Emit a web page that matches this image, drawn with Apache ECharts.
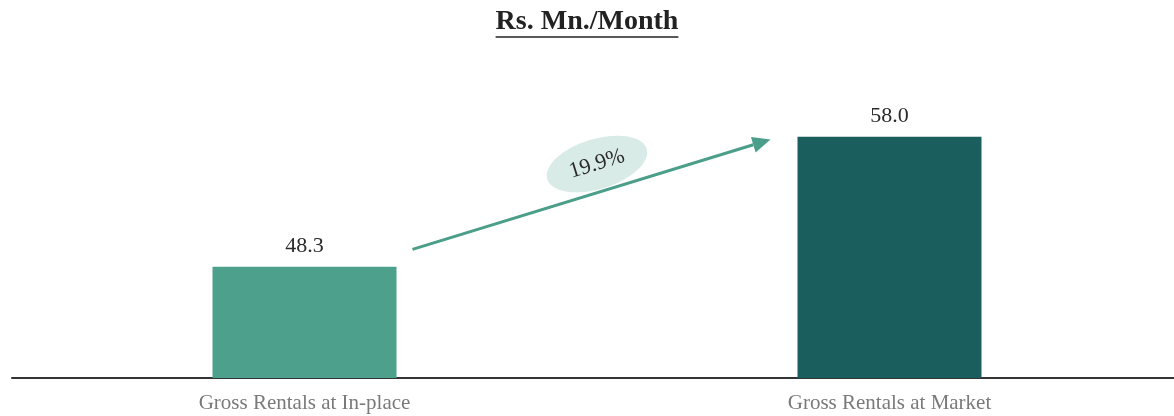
<!DOCTYPE html>
<html>
<head>
<meta charset="utf-8">
<style>
  html, body { margin: 0; padding: 0; background: #fff; }
  #chart { width: 1174px; height: 416px; }
</style>
<script src="https://cdn.jsdelivr.net/npm/echarts@6/dist/echarts.min.js"></script>
</head>
<body>
<div id="chart"></div>
<script>
// Monthly gross rentals, Rs. Mn.
const categories = ['Gross Rentals at In-place', 'Gross Rentals at Market'];
const rentals = [48.3, 58.0];
const barColors = ['#4da08b', '#1b5e5e'];
const growthPct = 19.9;          // uplift from in-place to market, %
const titleText = 'Rs. Mn./Month';

const SERIF = '"Liberation Serif", "DejaVu Serif", serif';

const chart = echarts.init(document.getElementById('chart'));

chart.setOption({
  animation: false,
  backgroundColor: '#ffffff',
  grid: { left: 12, width: 1170, top: 43, bottom: 38, outerBoundsMode: 'none' },
  xAxis: {
    type: 'category',
    data: categories,
    axisTick: { show: false },
    axisLine: { lineStyle: { color: '#333', width: 2 } },
    axisLabel: { color: '#7a7a7a', fontFamily: SERIF, fontSize: 21, margin: 15 }
  },
  yAxis: {
    type: 'value',
    min: 40,
    max: 65,
    show: false
  },
  series: [{
    type: 'bar',
    barWidth: 184,
    data: rentals.map((v, i) => ({ value: v, itemStyle: { color: barColors[i] } })),
    label: {
      show: true,
      position: 'top',
      distance: 10,
      color: '#2b2b2b',
      fontFamily: SERIF,
      fontSize: 22,
      formatter: p => p.value.toFixed(1)
    }
  }]
});

// Arrow and growth badge placed from data coordinates
function drawOverlay() {
  const p0 = chart.convertToPixel({ gridIndex: 0 }, [0, rentals[0]]);
  const p1 = chart.convertToPixel({ gridIndex: 0 }, [1, rentals[1]]);
  const half = 92;
  const x0 = p0[0] + half + 16;
  const y0 = chart.convertToPixel({ gridIndex: 0 }, [0, 49.6])[1];
  const x1 = p1[0] - half - 27;
  const y1 = chart.convertToPixel({ gridIndex: 0 }, [1, 57.8])[1];
  const ang = Math.atan2(y1 - y0, x1 - x0);
  const headLen = 18, headW = 8;
  const bx = x1 - headLen * Math.cos(ang), by = y1 - headLen * Math.sin(ang);
  const nx = -Math.sin(ang), ny = Math.cos(ang);

  // title underline width from measured text
  const titleFont = 'bold 28px ' + SERIF;
  const ctx = document.createElement('canvas').getContext('2d');
  ctx.font = titleFont;
  const tw = ctx.measureText(titleText).width;
  const tcx = 587;

  const ex = 597, ey = 164;

  chart.setOption({
    graphic: [
      {
        type: 'text', x: tcx, y: 8,
        style: { text: titleText, font: titleFont, fill: '#222', align: 'center', verticalAlign: 'top' }
      },
      {
        type: 'line',
        shape: { x1: tcx - tw / 2, y1: 37, x2: tcx + tw / 2, y2: 37 },
        style: { stroke: '#222', lineWidth: 1.5 }
      },
      {
        type: 'line',
        shape: { x1: x0, y1: y0, x2: bx, y2: by },
        style: { stroke: '#4a9e8a', lineWidth: 3 }
      },
      {
        type: 'polygon',
        shape: { points: [[x1, y1], [bx + nx * headW, by + ny * headW], [bx - nx * headW, by - ny * headW]] },
        style: { fill: '#4a9e8a' }
      },
      {
        type: 'ellipse',
        x: ex, y: ey, rotation: -ang,
        shape: { cx: 0, cy: 0, rx: 52, ry: 25 },
        style: { fill: '#d8ebe6' }
      },
      {
        type: 'text',
        x: ex, y: ey, rotation: -ang,
        style: {
          text: growthPct.toFixed(1) + '%', font: '22px ' + SERIF, fill: '#2b2b2b',
          align: 'center', verticalAlign: 'middle'
        }
      }
    ]
  });
}
drawOverlay();
</script>
</body>
</html>
